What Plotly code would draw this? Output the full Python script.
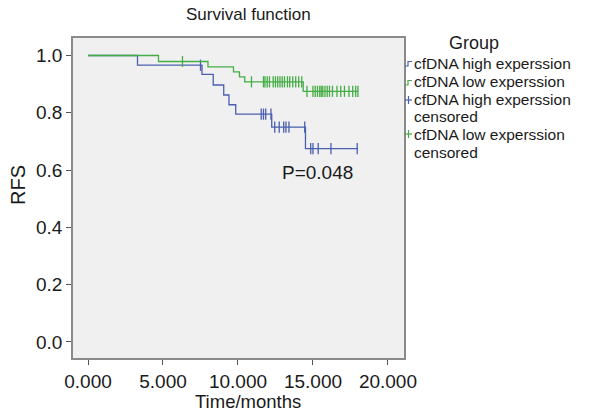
import numpy as np
import plotly.graph_objects as go

# ---- data ----
high_times = [0.0, 3.3, 7.6, 8.35, 9.05, 9.4, 9.85, 12.25, 14.5, 18.0]
high_surv = [1.0, 0.966, 0.934, 0.897, 0.862, 0.828, 0.795, 0.750, 0.675, 0.675]
high_censor = [7.5, 11.55, 11.7, 11.85, 12.2, 12.45, 12.75, 13.05, 13.2, 13.4,
               14.45, 14.85, 15.0, 15.35, 16.2, 17.95]

low_times = [0.0, 4.7, 8.0, 9.7, 10.1, 10.45, 14.35, 18.0]
low_surv = [1.0, 0.979, 0.960, 0.943, 0.925, 0.908, 0.875, 0.875]
low_censor = [6.3, 10.9, 11.7, 11.8, 11.95, 12.1, 12.35, 12.5, 12.65, 12.8, 12.95,
              13.1, 13.3, 13.45, 13.65, 13.85, 14.05, 14.25,
              14.6, 15.0, 15.15, 15.3, 15.45, 15.55, 15.65, 15.8, 15.95, 16.1,
              16.3, 16.6, 16.85, 17.1, 17.4, 17.65, 17.85, 18.0]

x_ticks = [0, 5, 10, 15, 20]
y_ticks = [0.0, 0.2, 0.4, 0.6, 0.8, 1.0]
p_text = "P=0.048"

BLUE = "#4a5fb0"
GREEN = "#45ad45"
FONT = "Liberation Sans, Arial, sans-serif"
TXT = "#1a1a1a"


def step_at(times, surv, t):
    idx = np.searchsorted(np.array(times), np.array(t), side="right") - 1
    return [surv[i] for i in idx]


fig = go.Figure()
for times, surv, cens, col in [(high_times, high_surv, high_censor, BLUE),
                               (low_times, low_surv, low_censor, GREEN)]:
    fig.add_trace(go.Scatter(x=times, y=surv, mode="lines", line_shape="hv",
                             line=dict(color=col, width=1.3), showlegend=False,
                             hoverinfo="skip"))
    fig.add_trace(go.Scatter(x=cens, y=step_at(times, surv, cens), mode="markers",
                             marker=dict(symbol="line-ns", size=8,
                                         line=dict(color=col, width=1.3)),
                             showlegend=False, hoverinfo="skip"))

L, R, T, B = 73, 186, 38, 60
W, H = 590, 418
PW, PH = W - L - R, H - T - B


def px(x):
    return (x - L) / PW


def py(y):
    return (H - B - y) / PH


def ann(x, y, text, size, xanchor="center", **kw):
    return dict(x=px(x), y=py(y), xref="paper", yref="paper", text=text,
                showarrow=False, xanchor=xanchor, yanchor="middle",
                font=dict(size=size, color=TXT), **kw)


annotations = [
    ann(248, 14, "Survival function", 17),
    ann(18, 185, "RFS", 20, textangle=-90),
    ann(248, 401, "Time/months", 18.5),
    dict(x=15.3, y=0.593, xref="x", yref="y", text=p_text, showarrow=False,
         xanchor="center", yanchor="middle", font=dict(size=19, color=TXT)),
    ann(474, 43, "Group", 18),
]
leg_rows = [
    ("cfDNA high experssion", 63),
    ("cfDNA low experssion", 82),
    ("cfDNA high experssion", 99.5),
    ("censored", 117),
    ("cfDNA low experssion", 134.5),
    ("censored", 152),
]
for text, y in leg_rows:
    annotations.append(ann(412.5, y, text, 15.5, xanchor="left", align="left",
                           borderpad=0))

shapes = []
for y, col in [(63, BLUE), (82, GREEN)]:
    shapes.append(dict(type="path", xref="paper", yref="paper",
                       path=f"M {px(405)},{py(y+3)} L {px(408)},{py(y+3)} L {px(408)},{py(y-1.5)} L {px(412)},{py(y-1.5)}",
                       line=dict(color=col, width=1.2)))
for y, col in [(100, BLUE), (134, GREEN)]:
    shapes.append(dict(type="line", xref="paper", yref="paper", x0=px(405), x1=px(412),
                       y0=py(y), y1=py(y), line=dict(color=col, width=1.2)))
    shapes.append(dict(type="line", xref="paper", yref="paper", x0=px(408.5), x1=px(408.5),
                       y0=py(y - 4), y1=py(y + 4), line=dict(color=col, width=1.2)))

fig.update_layout(
    width=W, height=H, margin=dict(l=L, r=R, t=T, b=B, autoexpand=False),
    paper_bgcolor="white", plot_bgcolor="#f0f0f0",
    font=dict(family=FONT, color=TXT),
    annotations=annotations, shapes=shapes, showlegend=False,
)
fig.update_xaxes(range=[-1.0, 21.07], tickvals=x_ticks, tickformat=".3f",
                 automargin=False,
                 showgrid=False, zeroline=False, showline=True, mirror=True,
                 linecolor="#8a8a8a", linewidth=1.5, ticks="outside", ticklen=5,
                 tickcolor="#555", tickfont=dict(size=19, color=TXT))
fig.update_yaxes(range=[-0.056, 1.061], tickvals=y_ticks, tickformat=".1f",
                 automargin=False,
                 showgrid=False, zeroline=False, showline=True, mirror=True,
                 linecolor="#8a8a8a", linewidth=1.5, ticks="outside", ticklen=5,
                 tickcolor="#555", tickfont=dict(size=19, color=TXT))

fig.write_html("out.html", config={"displayModeBar": False},
               post_script="document.body.style.margin='0';document.body.style.padding='0';")
